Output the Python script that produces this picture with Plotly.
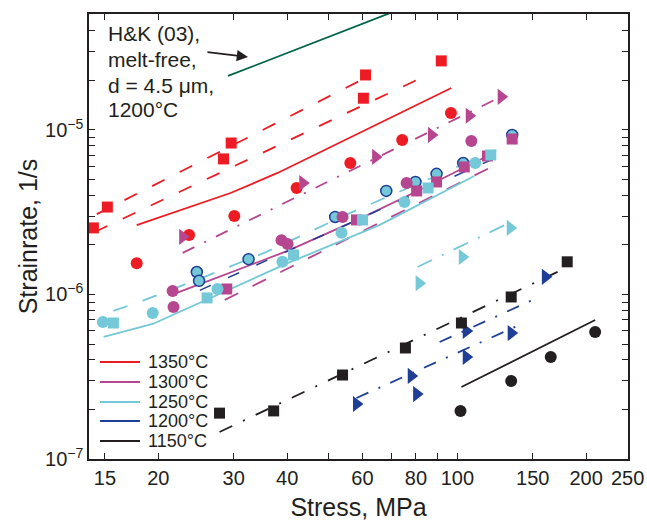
import math
import plotly.graph_objects as go

# ---------------- data ----------------
# model / fit lines
hk_x = [29.1, 75.0]
hk_y = [2.13e-5, 5.54e-5]

red_dash_hi_x = [14.36, 60.9]
red_dash_hi_y = [3.08e-6, 2.07e-5]
red_dash_lo_x = [14.2, 86.1]
red_dash_lo_y = [2.40e-6, 2.19e-5]
red_solid_x = [17.8, 23.4, 29.5, 38.0, 96.8]
red_solid_y = [2.64e-6, 3.36e-6, 4.14e-6, 5.48e-6, 1.80e-5]

mag_dashdot_x = [22.8, 122.0]
mag_dashdot_y = [1.79e-6, 1.52e-5]
mag_solid_x = [22.0, 40.1, 58.4, 80.7, 118.8]
mag_solid_y = [1.02e-6, 1.84e-6, 2.84e-6, 4.26e-6, 7.05e-6]
mag_dash_x = [28.6, 126.6]
mag_dash_y = [9.27e-7, 6.38e-6]

cyan_dash_x = [15.7, 18.6, 25.8, 35.7, 56.9, 123.3]
cyan_dash_y = [7.94e-7, 9.27e-7, 1.29e-6, 1.81e-6, 3.18e-6, 7.56e-6]
cyan_solid_x = [14.9, 19.4, 40.1, 65.7, 109.5]
cyan_solid_y = [5.52e-7, 6.62e-7, 1.55e-6, 2.64e-6, 5.25e-6]
cyan_dashdot_x = [80.7, 133.6]
cyan_dashdot_y = [1.47e-6, 2.76e-6]

navy_dash_x = [25.0, 127.2]
navy_dash_y = [1.06e-6, 7.05e-6]
navy_dashdot_a_x = [58.1, 139.7]
navy_dashdot_a_y = [2.35e-7, 6.53e-7]
navy_dashdot_b_x = [90.9, 155.4]
navy_dashdot_b_y = [5.14e-7, 9.66e-7]

blk_dashdot_x = [27.8, 179.4]
blk_dashdot_y = [1.46e-7, 1.45e-6]
blk_solid_x = [102.2, 209.9]
blk_solid_y = [2.74e-7, 7.0e-7]

# measurements
red_sq_x = [14.1, 15.2, 28.4, 29.6, 61.0, 60.3, 91.7]
red_sq_y = [2.54e-6, 3.4e-6, 6.67e-6, 8.33e-6, 2.16e-5, 1.56e-5, 2.63e-5]
red_ci_x = [17.8, 23.6, 30.1, 42.1, 56.2, 74.3, 96.6]
red_ci_y = [1.55e-6, 2.30e-6, 3.0e-6, 4.44e-6, 6.3e-6, 8.7e-6, 1.27e-5]

mag_tri_x = [22.8, 43.5, 64.4, 87.0, 106.6, 126.6]
mag_tri_y = [2.24e-6, 4.76e-6, 6.86e-6, 9.33e-6, 1.22e-5, 1.59e-5]
mag_ci_x = [21.6, 21.7, 38.8, 40.1, 53.9, 76.1, 107.8]
mag_ci_y = [1.05e-6, 8.4e-7, 2.14e-6, 2.03e-6, 2.96e-6, 4.76e-6, 8.57e-6]
mag_sq_x = [28.9, 58.1, 80.3, 89.4, 103.8, 117.6, 134.3]
mag_sq_y = [1.08e-6, 2.84e-6, 4.26e-6, 4.83e-6, 5.96e-6, 6.95e-6, 8.81e-6]

cyan_ci_x = [14.84, 19.4, 27.5, 39.0, 53.6, 75.2, 110.1]
cyan_ci_y = [6.81e-7, 7.73e-7, 1.08e-6, 1.58e-6, 2.37e-6, 3.65e-6, 6.3e-6]
cyan_bci_x = [24.6, 24.9, 32.5, 51.8, 68.2, 79.8, 89.4, 103.2, 134.3]
cyan_bci_y = [1.37e-6, 1.21e-6, 1.64e-6, 2.96e-6, 4.26e-6, 4.83e-6, 5.41e-6, 6.3e-6, 9.33e-6]
cyan_sq_x = [15.7, 26.0, 41.4, 60.0, 85.4, 119.7]
cyan_sq_y = [6.71e-7, 9.53e-7, 1.74e-6, 2.84e-6, 4.44e-6, 7.05e-6]
cyan_tri_x = [81.4, 102.7, 132.9]
cyan_tri_y = [1.17e-6, 1.69e-6, 2.54e-6]

navy_tri_x = [58.1, 80.3, 78.0, 104.9, 104.9, 133.6, 160.6]
navy_tri_y = [2.16e-7, 2.48e-7, 3.2e-7, 4.17e-7, 6.0e-7, 5.83e-7, 1.28e-6]

blk_sq_x = [27.8, 37.2, 53.9, 75.6, 102.2, 133.6, 180.6]
blk_sq_y = [1.9e-7, 1.96e-7, 3.24e-7, 4.73e-7, 6.71e-7, 9.66e-7, 1.58e-6]
blk_ci_x = [101.7, 133.6, 165.3, 209.9]
blk_ci_y = [1.96e-7, 2.98e-7, 4.17e-7, 5.91e-7]

x_tickvals = [15, 20, 30, 40, 50, 60, 70, 80, 90, 100, 150, 200, 250]
x_ticktext = ["15", "20", "30", "40", "", "60", "", "80", "", "100", "150", "200", "250"]
legend_labels = ["1350\u00b0C", "1300\u00b0C", "1250\u00b0C", "1200\u00b0C", "1150\u00b0C"]
note_lines = ["H&K (03),", "melt-free,", "d = 4.5 \u03bcm,", "1200\u00b0C"]

# ---------------- styling ----------------
RED = "#ED1C24"
MAG = "#B5468F"
CYAN = "#74C8D7"
NAVY = "#1F3E96"
BLK = "#231F20"
GREEN = "#00634A"
FONT = "Liberation Sans, Arial, Helvetica, sans-serif"

DASH = "14px,17px"
DASHDOT = "13px,11px,2px,11px"
LW = 1.8

fig = go.Figure()


def line(x, y, color, dash="solid", width=LW):
    fig.add_trace(go.Scatter(x=x, y=y, mode="lines", showlegend=False,
                             line=dict(color=color, dash=dash, width=width),
                             hoverinfo="skip"))


def pts(x, y, color, symbol, size, lc=None, lw=0):
    fig.add_trace(go.Scatter(x=x, y=y, mode="markers", showlegend=False,
                             marker=dict(color=color, symbol=symbol, size=size,
                                         line=dict(color=lc or color, width=lw))))


line(hk_x, hk_y, GREEN)
line(red_dash_hi_x, red_dash_hi_y, RED, DASH)
line(red_dash_lo_x, red_dash_lo_y, RED, DASH)
line(red_solid_x, red_solid_y, RED)
line(mag_dashdot_x, mag_dashdot_y, MAG, DASHDOT)
line(mag_solid_x, mag_solid_y, MAG)
line(mag_dash_x, mag_dash_y, MAG, "15px,16px")
line(cyan_dash_x, cyan_dash_y, CYAN, "15px,16px")
line(cyan_solid_x, cyan_solid_y, CYAN)
line(cyan_dashdot_x, cyan_dashdot_y, CYAN, "16px,11px,2px,11px")
line(navy_dash_x, navy_dash_y, NAVY, "12px,19px", 1.5)
line(navy_dashdot_a_x, navy_dashdot_a_y, NAVY, DASHDOT)
line(navy_dashdot_b_x, navy_dashdot_b_y, NAVY, DASHDOT)
line(blk_dashdot_x, blk_dashdot_y, BLK, "14px,12px,2px,12px")
line(blk_solid_x, blk_solid_y, BLK)

pts(red_sq_x, red_sq_y, RED, "square", 11)
pts(red_ci_x, red_ci_y, RED, "circle", 12)
pts(mag_tri_x, mag_tri_y, MAG, "triangle-right", 14)
pts(cyan_bci_x, cyan_bci_y, CYAN, "circle", 11, NAVY, 1.5)
pts(mag_sq_x, mag_sq_y, MAG, "square", 11)
pts(mag_ci_x, mag_ci_y, MAG, "circle", 12)
pts(cyan_sq_x, cyan_sq_y, CYAN, "square", 11)
pts(cyan_ci_x, cyan_ci_y, CYAN, "circle", 12)
pts(cyan_tri_x, cyan_tri_y, CYAN, "triangle-right", 14)
pts(navy_tri_x, navy_tri_y, NAVY, "triangle-right", 14)
pts(blk_sq_x, blk_sq_y, BLK, "square", 11)
pts(blk_ci_x, blk_ci_y, BLK, "circle", 12)

# ---------------- layout ----------------
W, H = 647, 521
L, R, T, B = 89, 19, 14, 62
pw, ph = W - L - R, H - T - B


def px_to_paper(px, py):
    """page pixel -> paper coords"""
    return (px - L) / pw, (H - B - py) / ph


y_tickvals = []
y_ticktext = []
for e in (-7, -6, -5):
    for m in range(1, 10):
        v = m * 10.0 ** e
        if v > 5.1e-5:
            break
        y_tickvals.append(v)
        y_ticktext.append(f"10<sup>\u2212{-e}</sup>" if m == 1 else "")

fig.update_layout(
    width=W, height=H,
    margin=dict(l=L, r=R, t=T, b=B, pad=0, autoexpand=False),
    paper_bgcolor="white", plot_bgcolor="white",
    font=dict(family=FONT, color=BLK, size=18),
    showlegend=False,
    xaxis=dict(type="log", range=[math.log10(13.77), math.log10(250.5)],
               automargin=False,
               tickmode="array", tickvals=x_tickvals, ticktext=x_ticktext,
               ticks="inside", ticklen=6, tickwidth=1.2, tickcolor=BLK,
               showline=True, linecolor=BLK, linewidth=1.5, mirror="ticks",
               showgrid=False, zeroline=False, ticklabeloverflow="allow",
               tickfont=dict(size=20, family=FONT, color=BLK),
               title=dict(text="Stress, MPa", font=dict(size=25, family=FONT, color=BLK),
                          standoff=18)),
    yaxis=dict(type="log", range=[-7, math.log10(5.07e-5)],
               automargin=False,
               tickmode="array", tickvals=y_tickvals, ticktext=y_ticktext,
               ticks="inside", ticklen=6, tickwidth=1.2, tickcolor=BLK,
               showline=True, linecolor=BLK, linewidth=1.5, mirror="ticks",
               showgrid=False, zeroline=False,
               tickfont=dict(size=20, family=FONT, color=BLK),
               title=dict(text="Strainrate, 1/s", font=dict(size=25, family=FONT, color=BLK),
                          standoff=0)),
)

# H&K annotation text, one line each
for txt, yy in zip(note_lines, [33, 59, 85, 110]):
    ax0, ay0 = px_to_paper(106, yy)
    fig.add_annotation(xref="paper", yref="paper", x=ax0, y=ay0, xanchor="left", yanchor="middle",
                       text=txt, showarrow=False, align="left",
                       font=dict(size=21, family=FONT, color=BLK))
# arrow pointing at the H&K line
fig.add_annotation(xref="x", yref="y", x=math.log10(32.4), y=math.log10(2.78e-5),
                   ax=-42, ay=-5, text="", showarrow=True, arrowhead=2,
                   arrowsize=1.4, arrowwidth=1.6, arrowcolor=BLK)

# legend (line samples + labels)
leg_colors = [RED, MAG, CYAN, NAVY, BLK]
leg_y = [362, 382, 402, 421, 441]
for lab, col, yy in zip(legend_labels, leg_colors, leg_y):
    x0p, yp = px_to_paper(100, yy)
    x1p, _ = px_to_paper(140, yy)
    fig.add_shape(type="line", xref="paper", yref="paper", x0=x0p, x1=x1p, y0=yp, y1=yp,
                  line=dict(color=col, width=2))
    tx, _ = px_to_paper(146, yy)
    fig.add_annotation(xref="paper", yref="paper", x=tx, y=yp, xanchor="left", yanchor="middle",
                       text=lab, showarrow=False,
                       font=dict(size=18, family=FONT, color=BLK))

# remove the default 8px page margin so the figure sits at the window origin
fig.write_html("out.html", config={"displayModeBar": False},
               post_script="document.body.style.margin='0';document.body.style.overflow='hidden';")
